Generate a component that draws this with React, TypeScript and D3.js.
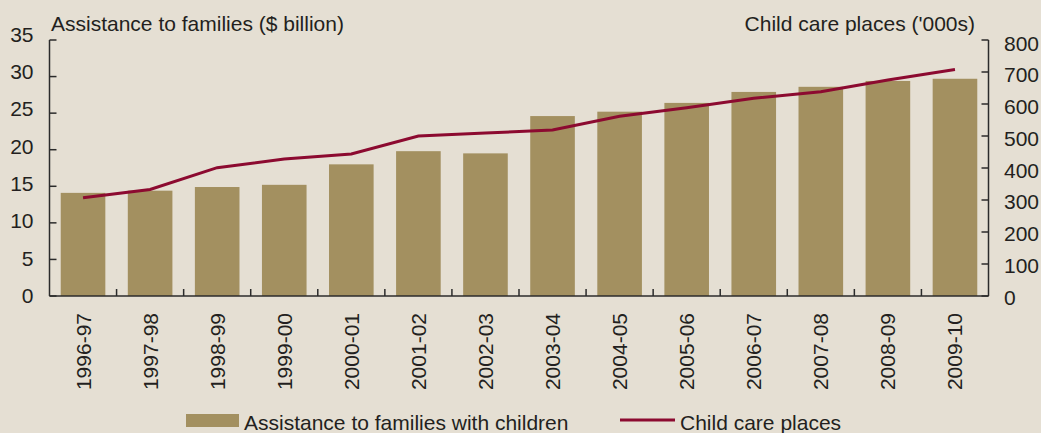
import React from "react";
import * as d3 from "d3";

const categories = ["1996-97","1997-98","1998-99","1999-00","2000-01","2001-02","2002-03","2003-04","2004-05","2005-06","2006-07","2007-08","2008-09","2009-10"];
const assistance = [14.1, 14.4, 14.9, 15.2, 18.0, 19.8, 19.5, 24.6, 25.2, 26.4, 27.9, 28.6, 29.4, 29.7];
const childCare = [307, 333, 401, 428, 444, 500, 509, 519, 562, 588, 618, 638, 675, 708];
const leftTicks = [0, 5, 10, 15, 20, 25, 30, 35];
const rightTicks = [0, 100, 200, 300, 400, 500, 600, 700, 800];

const W = 1041, H = 433;
const M = { left: 49.5, right: 988.5, top: 40, bottom: 296 };
const FONT = "'Liberation Sans', Arial, sans-serif";
const FS = 21;
const TXT = "#231f20";
const AX = "#2b2b2b";
const BAR = "#a39060";
const LINE = "#8c0a30";

export default function App() {
  const x = d3.scaleBand<string>().domain(categories).range([M.left, M.right]).paddingInner(0.335).paddingOuter(0.1675);
  const xb = d3.scaleBand<string>().domain(categories).range([M.left, M.right]);
  const yL = d3.scaleLinear().domain([0, 35]).range([M.bottom, M.top]);
  const yR = d3.scaleLinear().domain([0, 800]).range([M.bottom, M.top]);
  const yLlab = d3.scaleLinear().domain([0, 35]).range([295.5, 34]);
  const yRlab = d3.scaleLinear().domain([0, 800]).range([297, 43]);
  const line = d3.line<number>()
    .x((_, i) => (xb(categories[i]) as number) + xb.bandwidth() / 2)
    .y((d) => yR(d));

  return (
    <div style={{ position: "absolute", left: 0, top: 0 }}>
      <svg width={W} height={H} style={{ display: "block" }} fontFamily={FONT}>
        <rect x={0} y={0} width={W} height={H} fill="#e5dfd3" />
        {categories.map((c, i) => (
          <rect key={c} x={x(c)} y={yL(assistance[i])} width={x.bandwidth()} height={M.bottom - yL(assistance[i])} fill={BAR} />
        ))}
        <path d={line(childCare) || ""} fill="none" stroke={LINE} strokeWidth={3} />
        <line x1={M.left} x2={M.left} y1={M.top} y2={M.bottom} stroke={AX} strokeWidth={1.5} />
        <line x1={M.right} x2={M.right} y1={M.top} y2={M.bottom} stroke={AX} strokeWidth={1.5} />
        <line x1={M.left} x2={M.right} y1={M.bottom} y2={M.bottom} stroke={AX} strokeWidth={1.5} />
        {leftTicks.map((t) => (
          <g key={"l" + t}>
            <line x1={M.left} x2={M.left + 7} y1={yL(t)} y2={yL(t)} stroke={AX} strokeWidth={1.5} />
            <text x={33.5} y={yLlab(t)} dy="0.36em" textAnchor="end" fontSize={FS} fill={TXT}>{t}</text>
          </g>
        ))}
        {rightTicks.map((t) => (
          <g key={"r" + t}>
            <line x1={M.right - 7} x2={M.right} y1={yR(t)} y2={yR(t)} stroke={AX} strokeWidth={1.5} />
            <text x={1004} y={yRlab(t)} dy="0.36em" textAnchor="start" fontSize={FS} fill={TXT}>{t}</text>
          </g>
        ))}
        {categories.slice(1).map((c) => (
          <line key={"xt" + c} x1={xb(c)} x2={xb(c)} y1={M.bottom} y2={M.bottom - 7} stroke={AX} strokeWidth={1.5} />
        ))}
        {categories.map((c) => {
          const cx = (xb(c) as number) + xb.bandwidth() / 2;
          return (
            <text key={"xl" + c} transform={`translate(${cx + 7.5},${313}) rotate(-90)`} textAnchor="end" fontSize={FS} fill={TXT}>{c}</text>
          );
        })}
        <text x={51} y={31} fontSize={FS} fill={TXT}>Assistance to families ($ billion)</text>
        <text x={975} y={31} fontSize={FS} fill={TXT} textAnchor="end">Child care places ('000s)</text>
        <rect x={186} y={414} width={53} height={13} fill={BAR} />
        <text x={244} y={430} fontSize={FS} fill={TXT}>Assistance to families with children</text>
        <line x1={620} x2={675} y1={420} y2={420} stroke={LINE} strokeWidth={3} />
        <text x={680} y={430} fontSize={FS} fill={TXT}>Child care places</text>
      </svg>
    </div>
  );
}
